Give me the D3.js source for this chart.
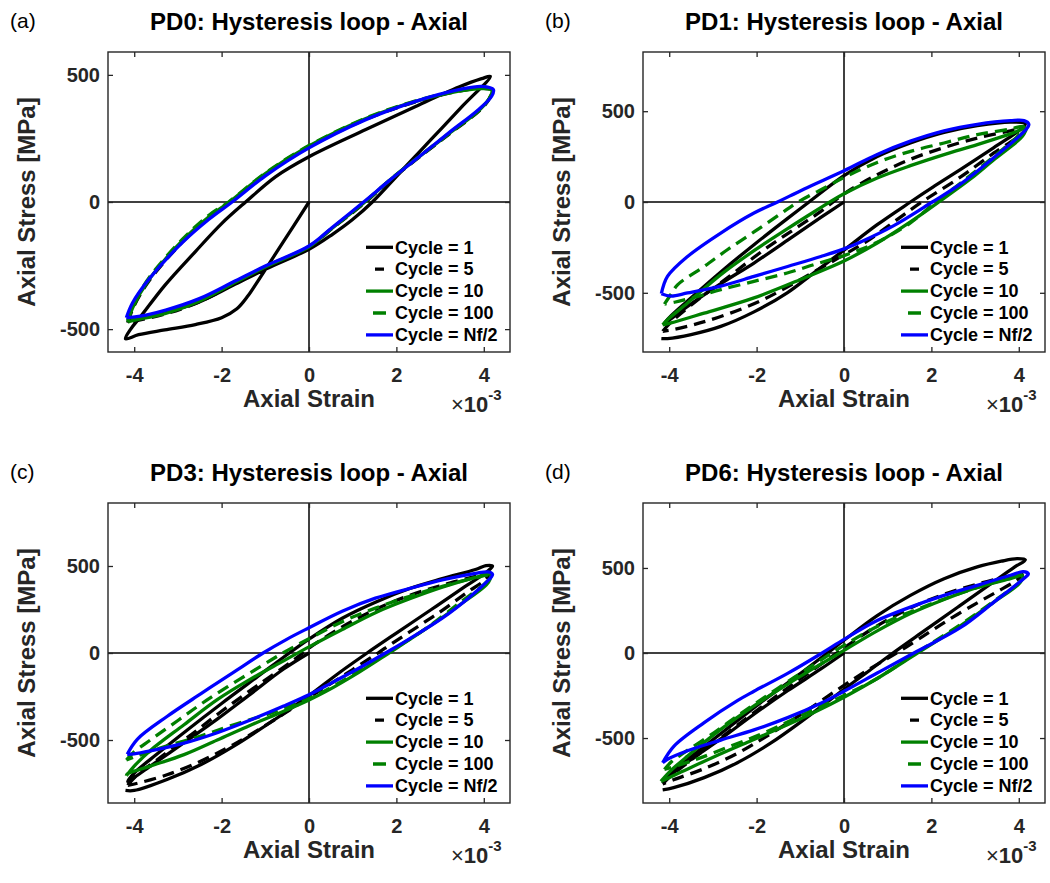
<!DOCTYPE html>
<html>
<head>
<meta charset="utf-8">
<script src="https://cdn.jsdelivr.net/npm/d3@7"></script>
<style>
  body { margin: 0; background: #fff; }
  svg { font-family: "Liberation Sans", Arial, Helvetica, sans-serif; }
</style>
</head>
<body>
<svg id="fig" width="1050" height="883"></svg>
<script>
// tick values and labels
const xTicks = [-4, -2, 0, 2, 4];
const yTicks = [-500, 0, 500];
const titles = ["PD0: Hysteresis loop - Axial", "PD1: Hysteresis loop - Axial",
                "PD3: Hysteresis loop - Axial", "PD6: Hysteresis loop - Axial"];
const letters = ["(a)", "(b)", "(c)", "(d)"];
const cycleLabels = ["Cycle = 1", "Cycle = 5", "Cycle = 10", "Cycle = 100", "Cycle = Nf/2"];
const yLimits = [590, 826, 862, 882];
const xLimit = 4.6;

// loops: [strain (x1e-3), stress (MPa)]
// PD0
const pd0_c1 = [[0,0],[-0.6,-160],[-1.14,-303],[-1.4,-370],[-1.65,-420],[-2.0,-455],[-2.6,-482],[-3.3,-503],[-3.9,-522],[-4.2,-538],
  [-4.08,-500],[-3.85,-450],[-3.3,-328],[-2.6,-195],[-2.0,-85],[-1.45,0],[-0.76,100],[0,178],[1.3,285],[2.44,376],[3.43,452],[3.95,485],[4.15,494],
  [3.5,375],[2.8,247],[2.1,119],[1.45,0],[0.99,-70],[0.53,-128],[0,-186],[-0.99,-264],[-1.75,-329],[-2.51,-393],[-3.28,-434],[-3.9,-458],[-4.15,-467]];
const pd0_c5 = [[-4.15,-475],[-4.02,-415],[-3.66,-310],[-2.9,-158],[-2.29,-62],[-1.8,0],[-1.0,108],[0,216],[1.3,325],[2.44,394],[3.43,436],[3.96,447],[4.18,440],
  [4.12,404],[3.89,358],[3.2,266],[2.44,165],[1.83,82],[1.3,0],[0.53,-104],[0,-178],[-0.99,-258],[-1.75,-325],[-2.51,-393],[-3.28,-440],[-4.02,-470],[-4.15,-475]];
const pd0_c10 = [[-4.15,-472],[-4.02,-410],[-3.66,-305],[-2.9,-152],[-2.29,-58],[-1.82,0],[-1.0,112],[0,220],[1.3,328],[2.44,396],[3.43,436],[3.96,446],[4.18,440],
  [4.12,405],[3.89,360],[3.2,268],[2.44,167],[1.83,84],[1.28,0],[0.53,-103],[0,-176],[-0.99,-255],[-1.75,-322],[-2.51,-390],[-3.28,-438],[-4.02,-466],[-4.15,-472]];
const pd0_c100 = [[-4.15,-465],[-4.02,-402],[-3.66,-298],[-2.9,-147],[-2.29,-52],[-1.84,0],[-1.0,114],[0,222],[1.3,330],[2.44,398],[3.43,438],[3.96,447],[4.18,440],
  [4.12,406],[3.89,362],[3.2,270],[2.44,168],[1.83,84],[1.27,0],[0.53,-102],[0,-175],[-0.99,-253],[-1.75,-320],[-2.51,-387],[-3.28,-434],[-4.02,-460],[-4.15,-465]];
const pd0_nf2 = [[-4.18,-455],[-4.04,-397],[-3.66,-303],[-2.9,-160],[-2.29,-68],[-1.76,0],[-0.99,104],[0,213],[1.3,324],[2.44,396],[3.43,442],[3.96,455],[4.22,442],
  [4.18,416],[3.89,365],[3.2,272],[2.44,167],[1.83,83],[1.25,0],[0.53,-100],[0,-173],[-0.99,-251],[-1.75,-316],[-2.51,-380],[-3.28,-425],[-3.9,-450],[-4.18,-455]];

// PD1
const pd1_c1 = [[0,0],[-0.53,-85],[-1.29,-210],[-2.06,-336],[-2.82,-450],[-3.58,-575],[-4.12,-670],
  [-3.95,-625],[-3.58,-545],[-2.82,-385],[-2.06,-235],[-1.29,-90],[-0.8,0],[0,145],[0.76,250],[1.52,325],[2.29,383],[3.05,420],[3.81,440],[4.15,430],
  [4.0,392],[3.43,300],[2.67,180],[2.06,86],[1.52,0],[0.76,-125],[0,-265],[-0.69,-390],[-1.3,-500],[-2.06,-605],[-2.82,-685],[-3.5,-730],[-4.04,-752],[-4.18,-752]];
const pd1_c5 = [[-4.15,-712],[-3.95,-660],[-3.3,-530],[-2.6,-405],[-1.83,-263],[-1.14,-150],[-0.53,-52],[0,45],[0.76,150],[1.52,235],[2.29,300],[3.05,352],[3.81,392],[4.15,405],
  [4.05,372],[3.43,270],[2.67,138],[1.78,0],[1.14,-110],[0.5,-220],[0,-290],[-0.65,-380],[-1.3,-468],[-1.87,-540],[-2.6,-612],[-3.3,-666],[-3.9,-702],[-4.15,-712]];
const pd1_c10 = [[-4.15,-676],[-4.04,-648],[-3.58,-556],[-2.82,-400],[-2.06,-268],[-1.3,-148],[-0.69,-55],[0,45],[0.76,132],[1.52,200],[2.29,261],[3.05,316],[3.81,375],[4.17,405],
  [4.12,375],[4.04,350],[3.43,233],[2.9,128],[2.17,0],[1.52,-110],[0.76,-226],[0,-325],[-0.91,-418],[-2.06,-528],[-3.2,-612],[-3.96,-666],[-4.15,-676]];
const pd1_c100 = [[-4.11,-562],[-3.95,-505],[-3.81,-456],[-3.2,-355],[-2.67,-263],[-2.06,-165],[-1.45,-65],[-1.05,0],[-0.38,86],[0,135],[0.76,218],[1.52,279],[2.29,325],[3.05,371],[3.81,402],[4.11,416],
  [4.04,380],[3.43,251],[2.67,105],[2.1,0],[1.52,-115],[0.76,-222],[0,-295],[-0.69,-345],[-1.3,-391],[-2.06,-437],[-2.82,-483],[-3.35,-520],[-3.88,-552],[-4.11,-562]];
const pd1_nf2 = [[-4.18,-505],[-4.04,-410],[-3.58,-300],[-2.82,-171],[-2.06,-61],[-1.52,0],[-0.91,72],[0,172],[0.76,262],[1.52,335],[2.29,392],[3.05,428],[3.81,448],[4.12,448],[4.23,428],
  [4.15,395],[3.43,245],[2.67,100],[2.02,0],[1.14,-130],[0.38,-220],[0,-258],[-0.53,-300],[-1.29,-355],[-2.06,-410],[-2.82,-463],[-3.58,-501],[-3.96,-518],[-4.18,-505]];

// PD3
const pd3_c1 = [[0,0],[-0.58,-92],[-1.34,-236],[-2.1,-380],[-2.86,-515],[-3.63,-650],[-4.15,-738],
  [-4.0,-690],[-3.5,-585],[-2.8,-445],[-2.0,-290],[-1.2,-140],[-0.45,0],[0,80],[0.76,200],[1.52,292],[2.29,369],[3.05,427],[3.81,480],[4.05,502],[4.2,500],
  [4.08,468],[3.5,370],[2.8,250],[2.05,123],[1.33,0],[0.7,-112],[0,-245],[-0.8,-385],[-1.72,-535],[-2.48,-642],[-3.25,-727],[-4.0,-790],[-4.2,-790]];
const pd3_c5 = [[-4.15,-760],[-3.95,-705],[-3.4,-600],[-2.7,-470],[-2.0,-335],[-1.2,-190],[-0.35,-40],[0,28],[0.76,150],[1.52,250],[2.29,330],[3.05,390],[3.81,440],[4.12,455],
  [4.05,425],[3.6,345],[3.05,245],[2.51,155],[1.9,55],[1.58,0],[1.0,-95],[0.38,-195],[0,-255],[-0.8,-385],[-1.72,-525],[-2.48,-622],[-3.25,-700],[-3.95,-750],[-4.15,-760]];
const pd3_c10 = [[-4.18,-705],[-4.0,-650],[-3.63,-560],[-2.86,-412],[-2.1,-268],[-1.34,-150],[-0.58,-45],[0,35],[0.76,135],[1.52,232],[2.29,310],[3.05,378],[3.81,435],[4.15,455],
  [4.11,407],[3.43,273],[2.67,138],[1.83,0],[1.14,-111],[0.38,-222],[0,-270],[-0.58,-335],[-1.34,-415],[-2.1,-500],[-2.86,-584],[-3.63,-650],[-4.16,-695],[-4.18,-705]];
const pd3_c100 = [[-4.18,-615],[-4.0,-568],[-3.63,-500],[-3.0,-388],[-2.48,-295],[-1.87,-195],[-1.19,-90],[-0.6,0],[0,82],[0.76,180],[1.52,258],[2.29,325],[3.05,383],[3.81,432],[4.12,445],
  [4.08,415],[3.43,285],[2.67,140],[1.8,0],[1.14,-105],[0.38,-215],[0,-262],[-0.81,-340],[-1.8,-419],[-2.48,-477],[-3.25,-534],[-3.93,-592],[-4.18,-615]];
const pd3_nf2 = [[-4.16,-582],[-3.93,-496],[-3.25,-365],[-2.48,-235],[-1.72,-110],[-1.05,0],[-0.5,80],[0,145],[0.76,240],[1.52,315],[2.29,370],[3.05,420],[3.81,458],[4.1,466],[4.2,452],
  [4.11,420],[3.66,318],[3.05,200],[2.29,80],[1.75,0],[1.14,-88],[0.38,-190],[0,-240],[-0.58,-305],[-1.34,-385],[-2.1,-458],[-2.86,-518],[-3.63,-563],[-4.0,-580],[-4.16,-582]];

// PD6
const pd6_c1 = [[0,0],[-0.53,-94],[-1.29,-222],[-2.06,-360],[-2.82,-505],[-3.58,-640],[-4.11,-745],
  [-3.95,-700],[-3.4,-590],[-2.7,-450],[-1.9,-290],[-1.1,-140],[-0.38,0],[0,75],[0.76,220],[1.52,339],[2.29,437],[3.05,506],[3.6,540],[3.96,555],[4.15,548],
  [3.9,505],[3.3,396],[2.6,269],[1.85,133],[1.12,0],[0.5,-118],[0,-213],[-0.91,-390],[-1.68,-530],[-2.44,-645],[-3.2,-733],[-3.9,-792],[-4.15,-805]];
const pd6_c5 = [[-4.15,-770],[-3.95,-720],[-3.4,-610],[-2.7,-475],[-1.9,-320],[-1.1,-170],[-0.3,-25],[0,30],[0.76,160],[1.52,265],[2.29,345],[3.05,405],[3.66,445],[4.08,462],
  [3.96,430],[3.5,360],[3.05,295],[2.36,190],[1.7,80],[1.2,0],[0.61,-90],[0,-190],[-0.8,-330],[-1.68,-475],[-2.44,-590],[-3.2,-680],[-3.9,-745],[-4.15,-770]];
const pd6_c10 = [[-4.19,-755],[-4.0,-700],[-3.58,-606],[-2.82,-449],[-2.06,-311],[-1.29,-183],[-0.53,-65],[0,15],[0.76,130],[1.52,232],[2.29,315],[3.05,386],[3.81,437],[4.08,455],
  [4.04,417],[3.43,299],[2.67,161],[1.68,0],[0.76,-150],[0,-260],[-0.69,-350],[-1.45,-440],[-2.21,-525],[-2.97,-610],[-3.73,-700],[-4.19,-755]];
const pd6_c100 = [[-4.11,-685],[-3.95,-640],[-3.66,-586],[-2.97,-468],[-2.44,-370],[-1.83,-262],[-1.14,-144],[-0.61,-55],[0,45],[0.91,175],[2.06,295],[2.82,365],[3.5,420],[4.1,458],
  [4.05,425],[3.43,305],[2.67,168],[1.65,0],[0.76,-150],[0,-250],[-0.8,-345],[-1.83,-470],[-2.59,-547],[-3.43,-630],[-4.11,-685]];
const pd6_nf2 = [[-4.15,-645],[-3.89,-547],[-3.2,-409],[-2.44,-280],[-2.06,-225],[-1.29,-120],[-0.5,0],[0,80],[0.76,191],[1.52,270],[2.29,339],[3.05,398],[3.81,457],[4.1,478],[4.22,465],
  [4.11,437],[3.43,299],[2.67,150],[1.6,0],[0.76,-118],[0,-225],[-0.53,-295],[-1.29,-380],[-2.06,-452],[-2.82,-512],[-3.58,-575],[-4.04,-625],[-4.15,-645]];

const panels = [
  { title: titles[0], letter: letters[0], ylim: yLimits[0], loops: [pd0_c1, pd0_c5, pd0_c10, pd0_c100, pd0_nf2] },
  { title: titles[1], letter: letters[1], ylim: yLimits[1], loops: [pd1_c1, pd1_c5, pd1_c10, pd1_c100, pd1_nf2] },
  { title: titles[2], letter: letters[2], ylim: yLimits[2], loops: [pd3_c1, pd3_c5, pd3_c10, pd3_c100, pd3_nf2] },
  { title: titles[3], letter: letters[3], ylim: yLimits[3], loops: [pd6_c1, pd6_c5, pd6_c10, pd6_c100, pd6_nf2] }
];

// line styles per cycle
const colors = ["#000000", "#000000", "#008000", "#008000", "#0000ff"];
const dashed = [false, true, false, true, false];
const legendDash = [null, "0,9,9,20", null, "0,7,13,20", null];

const W = 402, H = 300;
const origins = [[108, 52], [643, 52], [108, 503], [643, 503]];
const axisColor = "#262626";

const svg = d3.select("#fig");

panels.forEach((p, i) => {
  const [ox, oy] = origins[i];
  const g = svg.append("g").attr("transform", `translate(${ox},${oy})`);

  const x = d3.scaleLinear().domain([-xLimit, xLimit]).range([0, W]);
  const y = d3.scaleLinear().domain([-p.ylim, p.ylim]).range([H, 0]);

  // zero lines
  g.append("line")
    .attr("x1", x(0)).attr("x2", x(0)).attr("y1", 0).attr("y2", H)
    .attr("stroke", "#000").attr("stroke-width", 1.5);
  g.append("line")
    .attr("x1", 0).attr("x2", W).attr("y1", y(0)).attr("y2", y(0))
    .attr("stroke", "#000").attr("stroke-width", 1.5);

  // loops
  const line = d3.line()
    .x(d => x(d[0]))
    .y(d => y(d[1]))
    .curve(d3.curveCatmullRom.alpha(0.5));

  p.loops.forEach((pts, k) => {
    g.append("path")
      .datum(pts)
      .attr("fill", "none")
      .attr("stroke", colors[k])
      .attr("stroke-width", 3.3)
      .attr("stroke-linejoin", "round")
      .attr("stroke-dasharray", dashed[k] ? "12,7" : null)
      .attr("d", line);
  });

  // axes box
  g.append("rect")
    .attr("width", W).attr("height", H)
    .attr("fill", "none").attr("stroke", axisColor).attr("stroke-width", 1.4);

  const styleAxis = sel => {
    sel.select(".domain").remove();
    sel.attr("color", axisColor)
      .attr("font-size", 20)
      .attr("font-weight", "bold")
      .attr("font-family", "'Liberation Sans', Arial, sans-serif");
    sel.selectAll(".tick line").attr("stroke-width", 1.3);
  };
  const plain = d => String(d);

  g.append("g").attr("transform", `translate(0,${H})`)
    .call(d3.axisBottom(x).tickValues(xTicks).tickFormat(plain).tickSizeInner(-5).tickSizeOuter(0).tickPadding(16))
    .call(styleAxis);
  g.append("g")
    .call(d3.axisTop(x).tickValues(xTicks).tickSizeInner(-5).tickSizeOuter(0).tickFormat(""))
    .call(styleAxis);
  g.append("g")
    .call(d3.axisLeft(y).tickValues(yTicks).tickFormat(plain).tickSizeInner(-5).tickSizeOuter(0).tickPadding(8))
    .call(styleAxis);
  g.append("g").attr("transform", `translate(${W},0)`)
    .call(d3.axisRight(y).tickValues(yTicks).tickSizeInner(-5).tickSizeOuter(0).tickFormat(""))
    .call(styleAxis);

  // exponent label
  const ex = g.append("text")
    .attr("x", 343).attr("y", H + 60)
    .attr("fill", axisColor).attr("font-size", 22);
  ex.append("tspan").text("\u00d7");
  ex.append("tspan").attr("font-weight", "bold").text("10");
  ex.append("tspan").attr("font-weight", "bold").attr("font-size", 15).attr("dy", -12).text("-3");

  // axis labels
  g.append("text")
    .attr("x", W / 2).attr("y", H + 55)
    .attr("text-anchor", "middle")
    .attr("font-size", 24).attr("font-weight", "bold").attr("fill", axisColor)
    .text("Axial Strain");
  g.append("text")
    .attr("transform", `translate(-73,${H / 2}) rotate(-90)`)
    .attr("text-anchor", "middle")
    .attr("font-size", 24).attr("font-weight", "bold").attr("fill", axisColor)
    .text("Axial Stress [MPa]");

  // title and panel letter
  g.append("text")
    .attr("x", W / 2).attr("y", -22)
    .attr("text-anchor", "middle")
    .attr("font-size", 24).attr("font-weight", "bold").attr("fill", "#000")
    .text(p.title);
  g.append("text")
    .attr("x", -98).attr("y", -24)
    .attr("font-size", 21).attr("fill", "#000")
    .text(p.letter);

  // legend
  const lg = g.append("g").attr("transform", "translate(258,195.3)");
  cycleLabels.forEach((lab, k) => {
    const ly = k * 21.9;
    lg.append("line")
      .attr("x1", 0).attr("x2", 27).attr("y1", ly).attr("y2", ly)
      .attr("stroke", colors[k]).attr("stroke-width", 3.3)
      .attr("stroke-dasharray", legendDash[k]);
    lg.append("text")
      .attr("x", 29).attr("y", ly).attr("dy", "0.35em")
      .attr("font-size", 18).attr("font-weight", "bold").attr("fill", "#000")
      .text(lab);
  });
});
</script>
</body>
</html>
